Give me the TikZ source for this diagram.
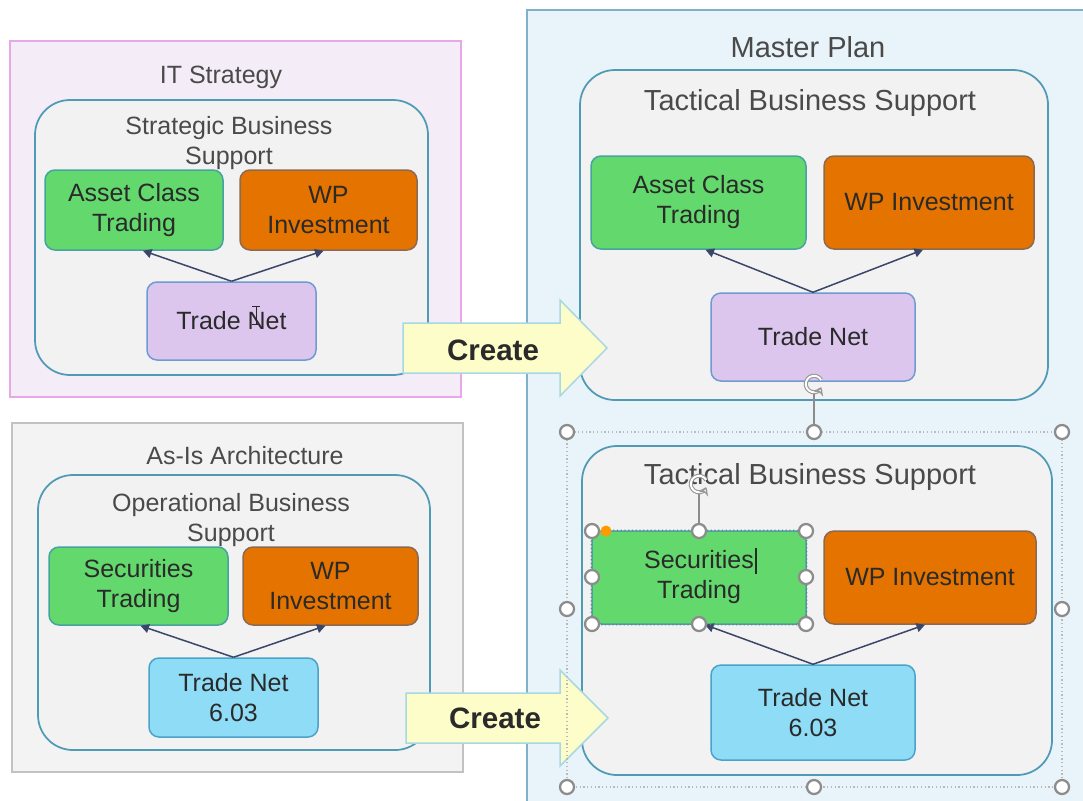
\documentclass[tikz,border=0pt]{standalone}
\usepackage{fontspec}
\setmainfont{Liberation Sans}
\usepackage{xcolor}
\usetikzlibrary{calc}
\usetikzlibrary{fit}
\usetikzlibrary{arrows.meta}

\definecolor{stratpink}{HTML}{E8A8E8}
\definecolor{stratfill}{HTML}{F4ECF6}
\definecolor{asisgray}{HTML}{C2C2C2}
\definecolor{asisfill}{HTML}{F3F3F3}
\definecolor{planblue}{HTML}{7FB2CA}
\definecolor{planfill}{HTML}{E8F4FA}
\definecolor{bizline}{HTML}{4F9AB5}
\definecolor{bizfill}{HTML}{F2F2F2}
\definecolor{appgreen}{HTML}{63D86D}
\definecolor{greenline}{HTML}{45A3A0}
\definecolor{apporange}{HTML}{E57300}
\definecolor{orangeline}{HTML}{8C6A52}
\definecolor{netlilac}{HTML}{DCC6EE}
\definecolor{lilacline}{HTML}{6F9BD0}
\definecolor{netblue}{HTML}{8EDCF6}
\definecolor{blueline}{HTML}{4AA3C8}
\definecolor{linkcol}{HTML}{3B4668}
\definecolor{createfill}{HTML}{FDFDC9}
\definecolor{createline}{HTML}{A8D8E4}
\definecolor{txt}{HTML}{2A2A2A}
\definecolor{handlegray}{HTML}{8C8C8C}

\tikzset{
	frame/.style={draw=#1, line width=0.7pt, inner sep=0pt},
	bizbox/.style={draw=bizline, fill=bizfill, line width=0.7pt, rounded corners=14pt, inner sep=0pt},
	appbox/.style={draw=#1, line width=0.6pt, rounded corners=4pt, inner sep=0pt},
	apptext/.style={text=txt, align=center, font=\fontsize{10}{12}\selectfont},
	title/.style={text=txt!85, align=center, font=\fontsize{10}{12}\selectfont},
	bigtitle/.style={text=txt!85, align=center, font=\fontsize{11.6}{14}\selectfont},
	link/.style={draw=linkcol, line width=0.6pt, -{Triangle[length=3.4pt,width=3.6pt]}},
	createarrow/.style={draw=createline, fill=createfill, line width=0.6pt},
	createtext/.style={text=txt, font=\bfseries\fontsize{11.8}{14}\selectfont},
	handle/.style={circle, draw=handlegray, fill=white, line width=0.9pt, minimum size=5.6pt, inner sep=0pt},
	selframe/.style={draw=handlegray!60, line width=0.5pt, densely dotted},
	rotline/.style={draw=handlegray, line width=0.5pt},
	roticon/.style={draw=handlegray!90, line width=0.45pt, double=white, double distance=0.75pt,
		-{Stealth[length=3pt,width=4.2pt,fill=white]}}
}

\begin{document}
\begin{tikzpicture}[x=0.4pt,y=-0.4pt]
\useasboundingbox (0,0) rectangle (1083,800);
\clip (0,0) rectangle (1083,800);

% IT Strategy
\node[frame=stratpink, fill=stratfill, fit={(10,41) (461,397)}] (itStrategy) {};
\node[title] (itTitle) at (221,77) {IT Strategy};
\node[bizbox, fit={(35,100) (428,375)}] (sbs) {};
\node[title] (sbsTitle) at (229,143) {Strategic Business\\Support};
\node[appbox=greenline, fill=appgreen, fit={(45,170) (223,250)}] (sbsAsset) {};
\node[apptext] (sbsAssetText) at (sbsAsset) {Asset Class\\Trading};
\node[appbox=orangeline, fill=apporange, fit={(240,170) (417,250)}] (sbsWp) {};
\node[apptext] (sbsWpText) at (sbsWp) {WP\\Investment};
\node[appbox=lilacline, fill=netlilac, fit={(147,282) (316,360)}] (sbsNet) {};
\node[apptext] (sbsNetText) at (sbsNet) {Trade Net};
\draw[link] (sbsNet.north) -- ($(sbsAsset.south)+(9,0)$);
\draw[link] (sbsNet.north) -- ($(sbsWp.south)+(-5,0)$);
% text cursor
\draw[txt, line width=0.4pt] (252,306) -- (260,306) (256,306) -- (256,324) (252,324) -- (260,324);

% As-Is Architecture
\node[frame=asisgray, fill=asisfill, fit={(12,423) (463,772)}] (asIs) {};
\node[title] (asIsTitle) at (245,456) {As-Is Architecture};
\node[bizbox, fit={(38,475) (430,750)}] (obs) {};
\node[title] (obsTitle) at (231,520) {Operational Business\\Support};
\node[appbox=greenline, fill=appgreen, fit={(49,547) (228,625)}] (obsSec) {};
\node[apptext] (obsSecText) at (obsSec) {Securities\\Trading};
\node[appbox=orangeline, fill=apporange, fit={(243,547) (418,625)}] (obsWp) {};
\node[apptext] (obsWpText) at (obsWp) {WP\\Investment};
\node[appbox=blueline, fill=netblue, fit={(149,658) (318,737)}] (obsNet) {};
\node[apptext] (obsNetText) at (obsNet) {Trade Net\\6.03};
\draw[link] (obsNet.north) -- ($(obsSec.south)+(2,0)$);
\draw[link] (obsNet.north) -- ($(obsWp.south)+(-5,0)$);

% Master Plan
\node[frame=planblue, fill=planfill, fit={(527,10) (1110,830)}] (master) {};
\node[bigtitle] (masterTitle) at (808,47) {Master Plan};

\node[bizbox, fit={(580,70) (1048,400)}] (tbsTop) {};
\node[bigtitle] (tbsTopTitle) at (810,103) {Tactical Business Support};
\node[appbox=greenline, fill=appgreen, fit={(591,156) (806,249)}] (topAsset) {};
\node[apptext] (topAssetText) at (topAsset) {Asset Class\\Trading};
\node[appbox=orangeline, fill=apporange, fit={(824,156) (1034,249)}] (topWp) {};
\node[apptext] (topWpText) at (topWp) {WP Investment};
\node[appbox=lilacline, fill=netlilac, fit={(711,293) (915,381)}] (topNet) {};
\node[apptext] (topNetText) at (topNet) {Trade Net};
\draw[link] (topNet.north) -- ($(topAsset.south)+(7,0)$);
\draw[link] (topNet.north) -- ($(topWp.south)+(-6,0)$);

\node[bizbox, fit={(582,446) (1052,775)}] (tbsLow) {};
\node[bigtitle] (tbsLowTitle) at (810,477) {Tactical Business Support};
\node[appbox=greenline, fill=appgreen, fit={(592,531) (806,624)}] (lowSec) {};
\node[apptext] (lowSecText) at (lowSec) {Securities\\Trading};
\node[appbox=orangeline, fill=apporange, fit={(824,531) (1036,624)}] (lowWp) {};
\node[apptext] (lowWpText) at (lowWp) {WP Investment};
\node[appbox=blueline, fill=netblue, fit={(711,665) (915,760)}] (lowNet) {};
\node[apptext] (lowNetText) at (lowNet) {Trade Net\\6.03};
\draw[link] (lowNet.north) -- ($(lowSec.south)+(6,0)$);
\draw[link] (lowNet.north) -- ($(lowWp.south)+(-5,0)$);
% text caret
\draw[txt, line width=0.5pt] ($(lowSec)+(57,-30)$) -- ++(0,26);

% Create arrows
\draw[createarrow] (403,323) -- (560,323) -- (560,300) -- (607,348) -- (560,396) -- (560,373) -- (403,373) -- cycle;
\node[createtext] (createTop) at (493,350) {Create};
\draw[createarrow] (406,693) -- (560,693) -- (560,670) -- (608,718) -- (560,766) -- (560,743) -- (406,743) -- cycle;
\node[createtext] (createLow) at (495,718) {Create};

% selection of the lower group
\draw[selframe] (567,432) rectangle (1062,787);
\coordinate (rotTop) at (814,384);
\node[handle] (hN) at (814,432) {};
\draw[rotline] ($(rotTop)+(0,9)$) -- (hN);
\foreach \hx/\hy/\hname in {567/432/hNW, 1062/432/hNE, 567/609/hW, 1062/609/hE, 567/787/hSW, 814/787/hS, 1062/787/hSE}
	\node[handle] (\hname) at (\hx,\hy) {};
\draw[roticon] ([shift={(30:3.3pt)}]rotTop) arc[start angle=30, end angle=335, radius=3.3pt];

% selection of Securities Trading
\draw[draw=linkcol!70, line width=0.5pt, densely dotted, rounded corners=4pt] (lowSec.north west) rectangle (lowSec.south east);
\coordinate (rotSec) at (699,484);
\node[handle] (sN) at (699,531) {};
\draw[rotline] ($(rotSec)+(0,9)$) -- (sN);
\foreach \hx/\hy/\hname in {592/531/sNW, 806/531/sNE, 592/577/sW, 806/577/sE, 592/624/sSW, 699/624/sS, 806/624/sSE}
	\node[handle] (\hname) at (\hx,\hy) {};
\fill[orange!80!yellow] (606,531) circle (2.2pt);
\draw[roticon] ([shift={(30:3.3pt)}]rotSec) arc[start angle=30, end angle=335, radius=3.3pt];
\end{tikzpicture}
\end{document}
